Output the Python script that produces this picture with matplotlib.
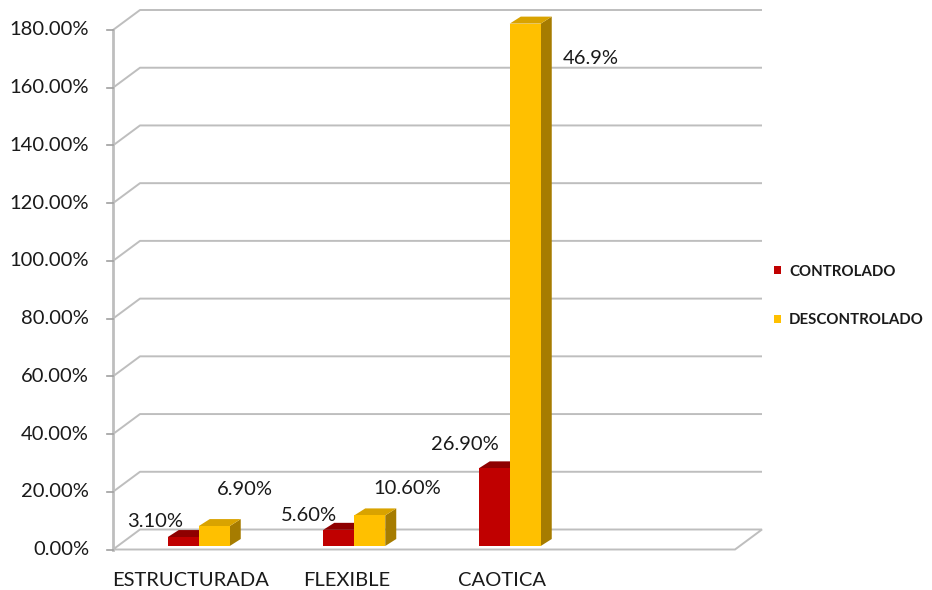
import matplotlib
matplotlib.use("Agg")
import matplotlib.pyplot as plt
from matplotlib.patches import Polygon, Patch

plt.rcParams['font.family'] = ['Lato', 'DejaVu Sans']

# ---- data ----
categories = ["ESTRUCTURADA", "FLEXIBLE", "CAOTICA"]
series_names = ["CONTROLADO", "DESCONTROLADO"]
controlado = [0.031, 0.056, 0.269]
descontrolado = [0.069, 0.106, 1.81]
label_controlado = ["3.10%", "5.60%", "26.90%"]
label_descontrolado = ["6.90%", "10.60%", "46.9%"]
y_ticks = [0.0, 0.2, 0.4, 0.6, 0.8, 1.0, 1.2, 1.4, 1.6, 1.8]
y_tick_labels = ["0.00%", "20.00%", "40.00%", "60.00%", "80.00%",
                 "100.00%", "120.00%", "140.00%", "160.00%", "180.00%"]
n_slots = 4  # category slots along the floor (last one empty)

# ---- style ----
face_colors = ["#C00000", "#FFC000"]
top_colors = ["#8E0000", "#D9A300"]
side_colors = ["#7A0000", "#A67C00"]
grid_color = "#BEBEBE"
text_color = "#1A1A1A"
label_size = 14.5

W, H, DPI = 932, 590, 100
fig = plt.figure(figsize=(W / DPI, H / DPI), dpi=DPI)
fig.patch.set_facecolor("white")

ax_left, ax_right, ax_top, ax_bottom = 113, 735, 30, 549.5
ax = fig.add_axes([ax_left / W, 1 - ax_bottom / H,
                   (ax_right - ax_left) / W, (ax_bottom - ax_top) / H])
ax.set_xlim(-0.5, n_slots - 0.5)
ax.set_ylim(0, 1.8)
ax.axis("off")

# pixel -> data conversion factors
px_x = n_slots / (ax_right - ax_left)
px_y = 1.8 / (ax_bottom - ax_top)

# oblique depth of the chart box
DX, DY = 27 * px_x, 20 * px_y
x0, x1 = -0.5, n_slots - 0.5

# back wall gridlines (with the left wall diagonal)
for v in y_ticks[1:]:
    ax.plot([x0, x0 + DX, x1 + DX], [v, v + DY, v + DY],
            color=grid_color, lw=1.4, clip_on=False, zorder=1,
            solid_capstyle="butt")

# floor
floor = Polygon([(x0, 0), (x1, 0), (x1 + DX, DY), (x0 + DX, DY)],
                closed=True, facecolor="white", edgecolor=grid_color,
                lw=1.4, clip_on=False, zorder=2)
ax.add_patch(floor)

# vertical axis line and ticks
ax.plot([x0, x0], [0, 1.8], color=grid_color, lw=2.0, clip_on=False, zorder=3)
for v, lab in zip(y_ticks, y_tick_labels):
    ax.plot([x0 - 6 * px_x, x0], [v, v], color="#A0A0A0", lw=1.2,
            clip_on=False, zorder=3)
    ax.annotate(lab, (x0, v), xytext=(-24, 0), textcoords="offset pixels",
                ha="right", va="center", fontsize=label_size, color=text_color,
                annotation_clip=False)

# category labels
for i, cat in enumerate(categories):
    ax.annotate(cat, (i, 0), xytext=(0, -31), textcoords="offset pixels",
                ha="center", va="center", fontsize=label_size, color=text_color,
                annotation_clip=False)

# 3D bars
bar_w = 31 * px_x
shift_x, shift_y = 8 * px_x, 3.5 * px_y
bdx, bdy = 11 * px_x, 7 * px_y


def draw_bar(xl, h, k):
    yb = shift_y
    front = Polygon([(xl, yb), (xl + bar_w, yb), (xl + bar_w, yb + h), (xl, yb + h)],
                    closed=True, facecolor=face_colors[k], edgecolor="none",
                    clip_on=False, zorder=5)
    top = Polygon([(xl, yb + h), (xl + bar_w, yb + h),
                   (xl + bar_w + bdx, yb + h + bdy), (xl + bdx, yb + h + bdy)],
                  closed=True, facecolor=top_colors[k], edgecolor="none",
                  clip_on=False, zorder=5)
    side = Polygon([(xl + bar_w, yb), (xl + bar_w + bdx, yb + bdy),
                    (xl + bar_w + bdx, yb + h + bdy), (xl + bar_w, yb + h)],
                   closed=True, facecolor=side_colors[k], edgecolor="none",
                   clip_on=False, zorder=5)
    for p in (side, top, front):
        ax.add_patch(p)
    return xl + bar_w / 2, yb + h


# label offsets (pixels) from the top-front centre of each bar
off_controlado = [(-28, 16), (-30, 14), (-29, 24)]
off_descontrolado = [(31, 37), (37, 27), (66, -35)]

for i in range(len(categories)):
    xl_red = i - bar_w + shift_x
    cx, cy = draw_bar(xl_red, controlado[i], 0)
    ax.annotate(label_controlado[i], (cx, cy), xytext=off_controlado[i],
                textcoords="offset pixels", ha="center", va="center",
                fontsize=label_size, color=text_color, zorder=8,
                annotation_clip=False)
    cx, cy = draw_bar(xl_red + bar_w, descontrolado[i], 1)
    ax.annotate(label_descontrolado[i], (cx, cy), xytext=off_descontrolado[i],
                textcoords="offset pixels", ha="center", va="center",
                fontsize=label_size, color=text_color, zorder=8,
                annotation_clip=False)

# legend
handles = [Patch(facecolor=c, edgecolor="none") for c in face_colors]
fig.legend(handles, series_names, loc="center left",
           bbox_to_anchor=(774 / W, 1 - 296 / H), bbox_transform=fig.transFigure,
           frameon=False, borderpad=0, borderaxespad=0,
           handlelength=0.45, handleheight=0.45, handletextpad=0.55,
           labelspacing=2.3, prop={"size": 10.8, "weight": "bold"},
           labelcolor=text_color)

fig.savefig("out.png", dpi=DPI, facecolor="white")
